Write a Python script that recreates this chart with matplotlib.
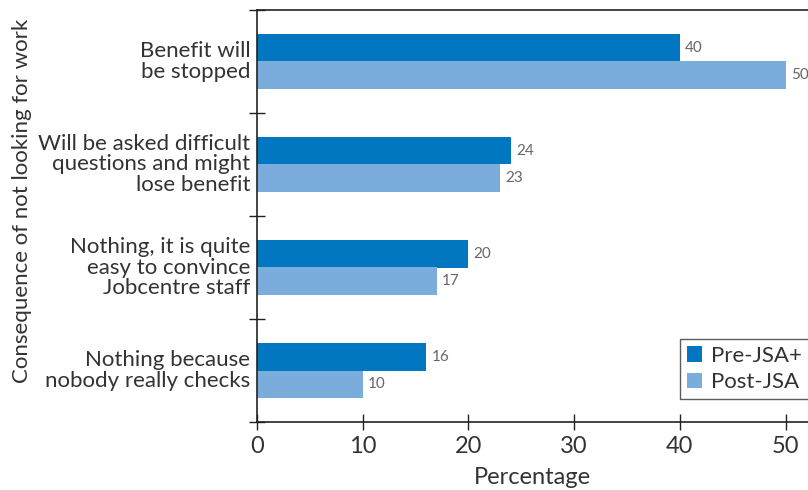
import matplotlib
matplotlib.use("Agg")
import matplotlib.pyplot as plt
import numpy as np

plt.rcParams['font.family'] = ['Lato', 'DejaVu Sans']

# answers, top to bottom
categories = [
    "Benefit will\nbe stopped",
    "Will be asked difficult\nquestions and might\nlose benefit",
    "Nothing, it is quite\neasy to convince\nJobcentre staff",
    "Nothing because\nnobody really checks",
]
pre_jsa = [40, 24, 20, 16]
post_jsa = [50, 23, 17, 10]
series_names = ["Pre-JSA+", "Post-JSA"]

pre_color = "#0077c0"
post_color = "#7aaddc"
text_color = "#333333"

fig = plt.figure(figsize=(8.08, 4.9), dpi=100)
ax = fig.add_axes([257 / 808, 1 - 422 / 490, 1 - 257 / 808 + 0.001, 412 / 490])

y = np.arange(len(categories))
h = 0.27
ax.barh(y - h / 2, pre_jsa, height=h, color=pre_color, label=series_names[0])
ax.barh(y + h / 2, post_jsa, height=h, color=post_color, label=series_names[1])

for yi, v in zip(y - h / 2, pre_jsa):
    ax.text(v + 0.5, yi, str(v), va="center", ha="left", fontsize=11, color="#666666")
for yi, v in zip(y + h / 2, post_jsa):
    ax.text(v + 0.5, yi, str(v), va="center", ha="left", fontsize=11, color="#666666")

ax.set_ylim(len(categories) - 0.5, -0.5)
ax.set_xlim(0, 52.2)

# category names sit between the tick marks, ticks mark the group boundaries
ax.set_yticks(np.arange(len(categories) + 1) - 0.5)
ax.set_yticklabels([])
ax.tick_params(axis="y", direction="inout", length=12, width=1, color="#222222")
for yi, name in zip(y, categories):
    ax.text(-0.012, yi, name, transform=ax.get_yaxis_transform(), ha="right", va="center",
            fontsize=16, color=text_color, linespacing=1.05)

ax.set_xticks([0, 10, 20, 30, 40, 50])
ax.tick_params(axis="x", direction="inout", length=12, width=1, color="#222222",
               labelsize=17, labelcolor=text_color, pad=4)

for side in ["top", "left", "bottom"]:
    ax.spines[side].set_color("#222222")
    ax.spines[side].set_linewidth(1.2)
ax.spines["right"].set_visible(False)

ax.set_xlabel("Percentage", fontsize=17, color=text_color, labelpad=7)
fig.text(22 / 808, 1 - 201 / 490, "Consequence of not looking for work", rotation=90,
         ha="center", va="center", fontsize=16, color=text_color)

leg = ax.legend(loc="lower right", bbox_to_anchor=(0.9995, 0.056),
                prop={"size": 16},
                frameon=True, fancybox=False, edgecolor="#333333", handlelength=0.7,
                handleheight=0.7, handletextpad=0.4, borderpad=0.3, labelspacing=0.3,
                borderaxespad=0)
for t in leg.get_texts():
    t.set_color(text_color)
leg.get_frame().set_linewidth(1)

fig.savefig("out.png", dpi=100)
